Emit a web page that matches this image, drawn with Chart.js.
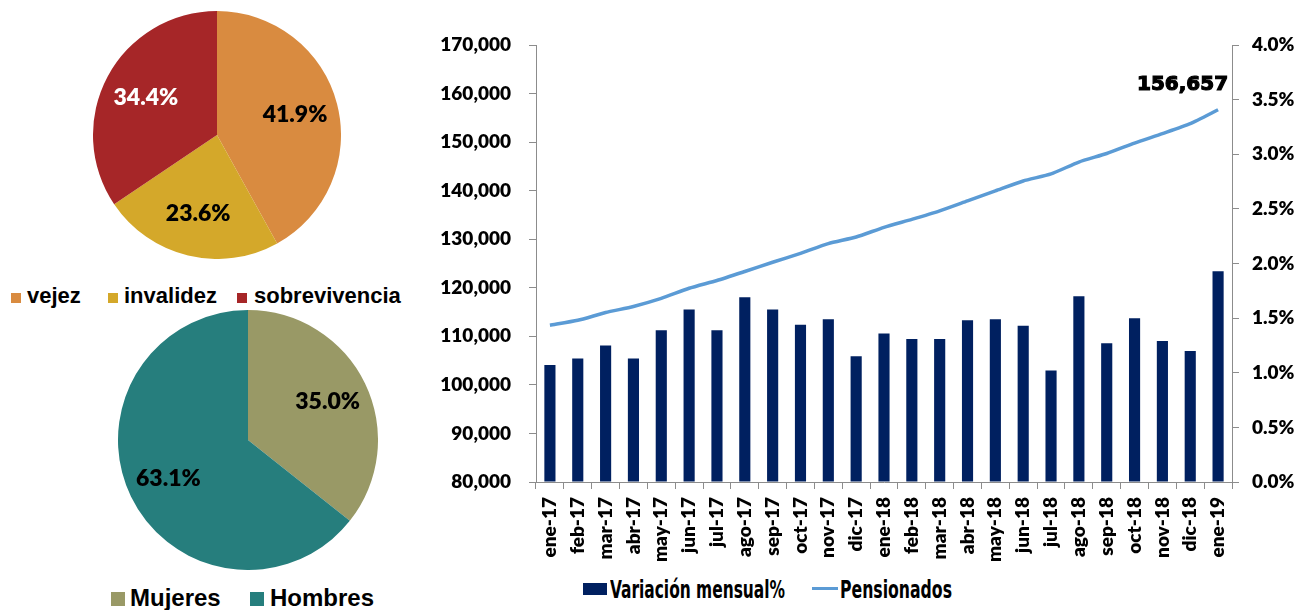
<!DOCTYPE html>
<html>
<head>
<meta charset="utf-8">
<script src="https://cdn.jsdelivr.net/npm/chart.js@4.4.1/dist/chart.umd.min.js"></script>
<style>
  body{margin:0;background:#fff;width:1299px;height:610px;overflow:hidden;position:relative;font-family:"Liberation Sans",Arial,sans-serif;}
  .box{position:absolute;}
  .lg{position:absolute;font-weight:bold;color:#000;white-space:nowrap;line-height:1;}
  .sw{position:absolute;}
  .narrow{font-family:"Liberation Sans Narrow","DejaVu Sans Condensed",sans-serif;transform-origin:left top;}
</style>
</head>
<body>
  <!-- pie: tipo de pension -->
  <div class="box" style="left:93px;top:11px;width:248px;height:248px"><canvas id="pieTipo"></canvas></div>
  <div class="sw" style="left:11px;top:293px;width:10px;height:10px;background:#D98B40"></div>
  <div class="lg" style="left:27px;top:285px;font-size:22px">vejez</div>
  <div class="sw" style="left:108px;top:293px;width:10px;height:10px;background:#D4A82A"></div>
  <div class="lg" style="left:124px;top:285px;font-size:22px">invalidez</div>
  <div class="sw" style="left:237px;top:293px;width:10px;height:10px;background:#A62628"></div>
  <div class="lg" style="left:254px;top:285px;font-size:22px">sobrevivencia</div>

  <!-- pie: sexo -->
  <div class="box" style="left:118px;top:310px;width:260px;height:260px"><canvas id="pieSexo"></canvas></div>
  <div class="sw" style="left:111px;top:592px;width:14px;height:14px;background:#999966"></div>
  <div class="lg" style="left:130px;top:586px;font-size:24px">Mujeres</div>
  <div class="sw" style="left:250px;top:592px;width:14px;height:14px;background:#267E7D"></div>
  <div class="lg" style="left:270px;top:586px;font-size:24px">Hombres</div>

  <!-- main combo chart -->
  <div class="box" style="left:420px;top:0;width:879px;height:570px"><canvas id="mainChart"></canvas></div>
  <div class="sw" style="left:583px;top:583px;width:24px;height:12px;background:#002060"></div>
  <div class="lg narrow" data-w="175" style="left:610px;top:577px;font-size:25px">Variación mensual%</div>
  <div class="sw" style="left:812px;top:587px;width:26px;height:3px;background:#5B9BD5"></div>
  <div class="lg narrow" data-w="112" style="left:840px;top:577px;font-size:25px">Pensionados</div>

<script>
// Data
const tipoLabels = ['vejez','invalidez','sobrevivencia'];
const tipoValues = [41.9, 23.6, 34.4];
const tipoColors = ['#D98B40','#D4A82A','#A62628'];
const tipoText = ['#000','#000','#fff'];

const sexoLabels = ['Mujeres','Hombres'];
const sexoValues = [35.0, 63.1];
const sexoColors = ['#999966','#267E7D'];

const months = ['ene-17','feb-17','mar-17','abr-17','may-17','jun-17','jul-17','ago-17','sep-17','oct-17','nov-17','dic-17',
  'ene-18','feb-18','mar-18','abr-18','may-18','jun-18','jul-18','ago-18','sep-18','oct-18','nov-18','dic-18','ene-19'];
const variacion = [1.07,1.13,1.25,1.13,1.39,1.58,1.39,1.69,1.58,1.44,1.49,1.15,
  1.36,1.31,1.31,1.48,1.49,1.43,1.02,1.70,1.27,1.50,1.29,1.20,1.93];
const pensionados = [112300,113300,114900,116150,117800,119900,121500,123350,125250,127100,129100,130450,
  132450,134100,135850,137900,139950,142000,143450,145900,147650,149800,151750,153800,156657];

const AXIS = '#8C8C8C';
const TICKFONT = {family:'Lato', size:19, weight:'800'};

// squeeze the condensed legend texts to the reference width
document.querySelectorAll('.narrow').forEach(el=>{
  const w = el.getBoundingClientRect().width;
  el.style.transform = 'scaleX(' + (parseFloat(el.dataset.w)/w) + ')';
});

// percent labels inside the pie slices
const pieLabels = {
  id:'pieLabels',
  afterDatasetsDraw(chart, args, opts){
    const ctx = chart.ctx;
    const meta = chart.getDatasetMeta(0);
    const vals = chart.data.datasets[0].data;
    ctx.save();
    ctx.font = opts.font; ctx.textAlign='center'; ctx.textBaseline='middle';
    meta.data.forEach((arc,i)=>{
      const p = arc.getProps(['x','y','startAngle','endAngle','outerRadius'], true);
      const mid = (p.startAngle+p.endAngle)/2;
      const r = p.outerRadius*opts.dist;
      ctx.fillStyle = opts.colors[i];
      ctx.fillText(vals[i].toFixed(1)+'%', p.x+Math.cos(mid)*r, p.y+Math.sin(mid)*r);
    });
    ctx.restore();
  }
};

// value label on last point of the line
const lastLabel = {
  id:'lastLabel',
  afterDatasetsDraw(chart){
    const idx = chart.data.datasets.findIndex(d=>d.type==='line');
    const meta = chart.getDatasetMeta(idx);
    const pt = meta.data[meta.data.length-1];
    const v = chart.data.datasets[idx].data[meta.data.length-1];
    const ctx = chart.ctx;
    ctx.save();
    ctx.font = 'bold 20px "DejaVu Sans"';
    ctx.fillStyle = '#000'; ctx.strokeStyle = '#000'; ctx.lineWidth = 1.2;
    ctx.textAlign='right'; ctx.textBaseline='middle';
    const s = v.toLocaleString('en-US');
    ctx.strokeText(s, pt.x+10, pt.y-25);
    ctx.fillText(s, pt.x+10, pt.y-25);
    ctx.restore();
  }
};

function pie(id, labels, values, colors, textColors, dist){
  new Chart(document.getElementById(id), {
    type:'pie',
    data:{labels:labels, datasets:[{data:values, backgroundColor:colors, borderWidth:0, hoverOffset:0, offset:0}]},
    options:{
      responsive:true, maintainAspectRatio:false, animation:false, events:[],
      layout:{padding:0},
      plugins:{legend:{display:false}, tooltip:{enabled:false},
        pieLabels:{font:'800 23px Lato', colors:textColors, dist:dist}}
    },
    plugins:[pieLabels]
  });
}
pie('pieTipo', tipoLabels, tipoValues, tipoColors, tipoText, 0.65);
pie('pieSexo', sexoLabels, sexoValues, sexoColors, ['#000','#000'], 0.68);

new Chart(document.getElementById('mainChart'), {
  data:{
    labels:months,
    datasets:[
      {type:'bar', label:'Variación mensual%', data:variacion, yAxisID:'y1', backgroundColor:'#002060',
        categoryPercentage:1, barPercentage:0.4, order:2},
      {type:'line', label:'Pensionados', data:pensionados, yAxisID:'y', borderColor:'#5B9BD5', borderWidth:3.5,
        pointRadius:0, tension:0.2, fill:false, order:1}
    ]
  },
  options:{
    responsive:true, maintainAspectRatio:false, animation:false, events:[],
    layout:{padding:{top:45, left:0, right:0, bottom:0}},
    plugins:{legend:{display:false}, tooltip:{enabled:false}},
    scales:{
      x:{
        offset:true,
        grid:{offset:true, drawOnChartArea:false, drawTicks:true, tickLength:7, color:AXIS},
        border:{color:AXIS, width:1},
        ticks:{font:TICKFONT, color:'#000', minRotation:90, maxRotation:90, padding:8, autoSkip:false},
        afterFit(s){ s.height = 88; }
      },
      y:{
        position:'left', min:80000, max:170000,
        grid:{drawOnChartArea:false, tickLength:7, color:AXIS},
        border:{color:AXIS, width:1},
        ticks:{stepSize:10000, font:TICKFONT, color:'#000', padding:18,
          callback:v=>v.toLocaleString('en-US')},
        afterFit(s){ s.width = 116; }
      },
      y1:{
        position:'right', min:0, max:4,
        grid:{drawOnChartArea:false, tickLength:7, color:AXIS},
        border:{color:AXIS, width:1},
        ticks:{stepSize:0.5, font:TICKFONT, color:'#000', padding:13,
          callback:v=>v.toFixed(1)+'%'},
        afterFit(s){ s.width = 67; }
      }
    }
  },
  plugins:[lastLabel]
});
</script>
</body>
</html>
